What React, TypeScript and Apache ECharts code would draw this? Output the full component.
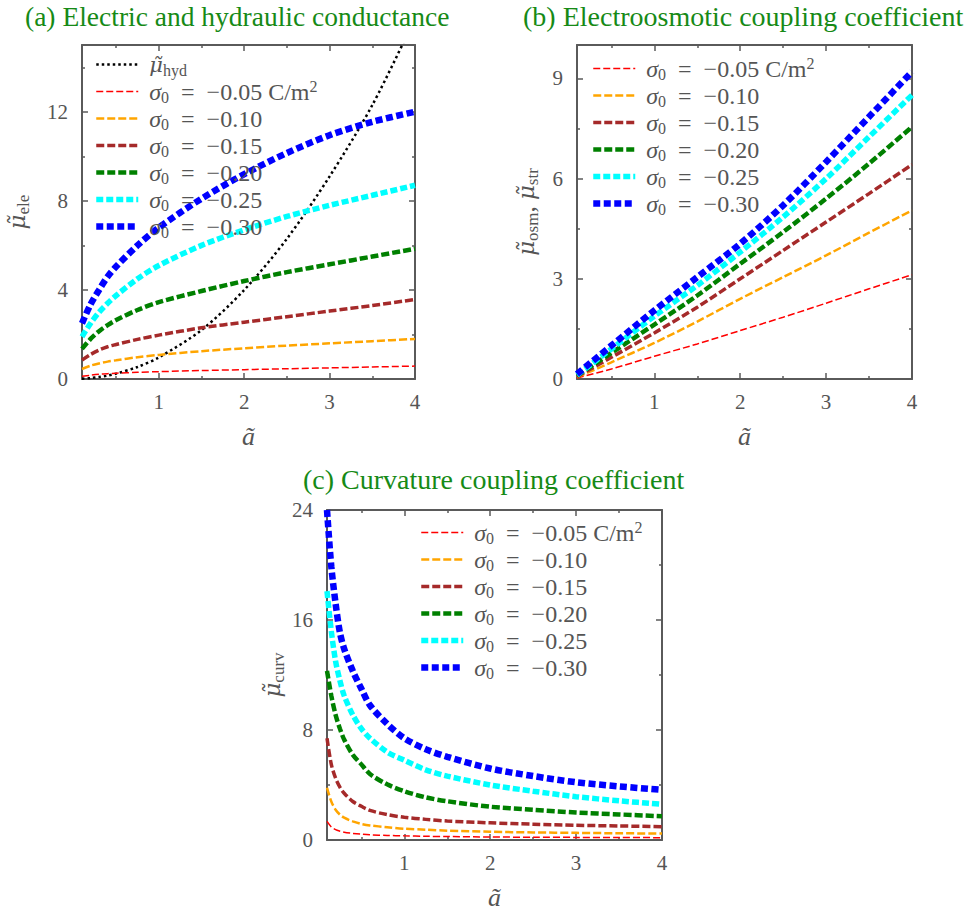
import React, { useEffect, useRef } from 'react';
import * as echarts from 'echarts';

// ---------------- data ----------------
// (a) electric conductance and hydraulic conductance vs ã
const xA = [0.1, 0.2, 0.3, 0.4, 0.5, 0.75, 1, 1.5, 2, 2.5, 3, 3.5, 4];
const hydA = [0.01, 0.04, 0.09, 0.15, 0.24, 0.54, 0.97, 2.2, 4.0, 6.3, 9.1, 12.3, 16.2];
const eleA005 = [0.12, 0.17, 0.21, 0.24, 0.26, 0.3, 0.33, 0.38, 0.42, 0.46, 0.5, 0.54, 0.58];
const eleA010 = [0.45, 0.6, 0.7, 0.78, 0.84, 0.98, 1.08, 1.25, 1.38, 1.5, 1.6, 1.7, 1.8];
const eleA015 = [0.85, 1.1, 1.3, 1.45, 1.55, 1.78, 1.97, 2.3, 2.55, 2.8, 3.05, 3.3, 3.57];
const eleA020 = [1.35, 1.8, 2.15, 2.42, 2.65, 3.1, 3.45, 3.95, 4.4, 4.8, 5.15, 5.5, 5.85];
const eleA025 = [1.9, 2.5, 3.0, 3.4, 3.75, 4.5, 5.1, 6.0, 6.7, 7.3, 7.8, 8.25, 8.7];
const eleA030 = [2.5, 3.35, 4.0, 4.6, 5.05, 6.0, 6.8, 8.1, 9.2, 10.15, 10.95, 11.55, 12.0];

// (b) electroosmotic coupling coefficient vs ã
const xB = [0.1, 0.5, 1, 1.5, 2, 2.5, 3, 3.5, 4];
const osmB005 = [0.03, 0.3, 0.68, 1.05, 1.45, 1.85, 2.27, 2.7, 3.12];
const osmB010 = [0.05, 0.5, 1.08, 1.72, 2.4, 3.05, 3.7, 4.38, 5.05];
const osmB015 = [0.07, 0.65, 1.38, 2.15, 3.0, 3.85, 4.7, 5.55, 6.42];
const osmB020 = [0.1, 0.78, 1.63, 2.5, 3.45, 4.4, 5.4, 6.45, 7.55];
const osmB025 = [0.12, 0.9, 1.88, 2.8, 3.8, 4.85, 6.0, 7.25, 8.5];
const osmB030 = [0.15, 1.0, 2.05, 3.05, 4.05, 5.2, 6.5, 7.85, 9.2];

// (c) curvature coupling coefficient vs ã
const xC = [0.1, 0.15, 0.2, 0.25, 0.3, 0.4, 0.5, 0.6, 0.8, 1, 1.25, 1.5, 2, 2.5, 3, 3.5, 4];
const curvC005 = [1.35, 0.95, 0.75, 0.64, 0.56, 0.48, 0.42, 0.38, 0.33, 0.3, 0.27, 0.25, 0.22, 0.2, 0.19, 0.18, 0.17];
const curvC010 = [3.8, 2.8, 2.2, 1.85, 1.62, 1.35, 1.17, 1.06, 0.93, 0.82, 0.75, 0.68, 0.6, 0.55, 0.52, 0.49, 0.47];
const curvC015 = [7.4, 5.5, 4.5, 3.85, 3.4, 2.8, 2.45, 2.15, 1.85, 1.65, 1.5, 1.38, 1.25, 1.15, 1.07, 1.02, 0.97];
const curvC020 = [12.3, 10.5, 9.1, 8.1, 7.3, 6.2, 5.5, 4.8, 4.05, 3.55, 3.1, 2.82, 2.42, 2.2, 2.0, 1.86, 1.72];
const curvC025 = [18.1, 15.2, 13.0, 11.6, 10.5, 9.1, 8.1, 7.4, 6.4, 5.8, 5.1, 4.65, 4.0, 3.55, 3.15, 2.85, 2.6];
const curvC030 = [24, 19.9, 17.2, 15.1, 13.9, 12.3, 11.0, 9.8, 8.45, 7.4, 6.6, 6.05, 5.2, 4.65, 4.2, 3.9, 3.65];

// tick values
const xMajorTicks = [1, 2, 3, 4];
const xMinorTicks = [0.5, 1.5, 2.5, 3.5];
const yMajorA = [0, 4, 8, 12];
const yMinorA = [2, 6, 10, 14];
const yMajorB = [0, 3, 6, 9];
const yMinorB = [1.5, 4.5, 7.5];
const yMajorC = [0, 8, 16, 24];
const yMinorC = [4, 12, 20];

const sigmaLabels = ['−0.05', '−0.10', '−0.15', '−0.20', '−0.25', '−0.30'];
const titles = [
  '(a) Electric and hydraulic conductance',
  '(b) Electroosmotic coupling coefficient',
  '(c) Curvature coupling coefficient',
];

// ---------------- styles ----------------
const COLORS = ['#ff0000', '#ffa500', '#a52a2a', '#008000', '#00ffff', '#0000ff'];
const WIDTHS = [1.5, 2.5, 3.5, 4.5, 5.5, 6.5];
const DASHES = [[7, 3], [8, 3], [8, 3], [8, 3], [7, 3], [7, 3.5]];
const FONT = '"Liberation Serif", "DejaVu Serif", serif';
const MUFONT = '"DejaVu Serif", serif';
const GRAY = '#555555';
const AXIS = '#5a5a5a';
const GREEN = '#168a16';

const rich = {
  g: { width: 6 },
  m: { fontStyle: 'italic', fontSize: 21, fontFamily: MUFONT, color: GRAY, lineHeight: 27 },
  i: { fontStyle: 'italic', fontSize: 24, fontFamily: FONT, color: GRAY, lineHeight: 27 },
  t: { fontSize: 24, fontFamily: FONT, color: GRAY, lineHeight: 27 },
  s: { fontSize: 16, fontFamily: FONT, color: GRAY, lineHeight: 16, verticalAlign: 'bottom' },
  p: { fontSize: 16, fontFamily: FONT, color: GRAY, lineHeight: 16, verticalAlign: 'top' },
};

const nameRich = {
  m: { fontStyle: 'italic', fontSize: 23, fontFamily: MUFONT, color: GRAY, lineHeight: 30 },
  i: { fontStyle: 'italic', fontSize: 26, fontFamily: FONT, color: GRAY, lineHeight: 30 },
  t: { fontSize: 25, fontFamily: FONT, color: GRAY, lineHeight: 30 },
  s: { fontSize: 17, fontFamily: FONT, color: GRAY, lineHeight: 17, verticalAlign: 'bottom' },
};

type PanelSpec = {
  grid: { left: number; top: number; width: number; height: number };
  yMax: number;
  yMajor: number[];
  yMinor: number[];
  yName: string;
  yNameGap: number;
};

const panels: PanelSpec[] = [
  { grid: { left: 82, top: 45, width: 333, height: 334 }, yMax: 15, yMajor: yMajorA, yMinor: yMinorA, yName: '{m|μ̃}{s|ele}', yNameGap: 50 },
  { grid: { left: 577, top: 45, width: 335, height: 334 }, yMax: 10, yMajor: yMajorB, yMinor: yMinorB, yName: '{m|μ̃}{s|osm}{t|, }{m|μ̃}{s|str}', yNameGap: 36 },
  { grid: { left: 327, top: 510, width: 335, height: 333 }, yMax: 24, yMajor: yMajorC, yMinor: yMinorC, yName: '{m|μ̃}{s|curv}', yNameGap: 40 },
];

function buildAxes() {
  const xAxis: any[] = [];
  const yAxis: any[] = [];
  const lineStyle = { color: AXIS, width: 2 };
  const tickStyle = { color: AXIS, width: 1.5 };
  const labelStyle = { color: GRAY, fontFamily: FONT, fontSize: 21 };
  panels.forEach((p, g) => {
    const xBase = { gridIndex: g, type: 'value', min: 0.1, max: 4, splitLine: { show: false } };
    const yBase = { gridIndex: g, type: 'value', min: 0, max: p.yMax, splitLine: { show: false } };
    const sides: Array<[string, boolean]> = [['bottom', true], ['top', false]];
    sides.forEach(([pos, labeled]) => {
      xAxis.push({
        ...xBase, position: pos,
        axisLine: { show: true, onZero: false, lineStyle },
        axisTick: { show: true, inside: true, length: 6, lineStyle: tickStyle, customValues: xMajorTicks },
        axisLabel: labeled
          ? { show: true, ...labelStyle, margin: 12, customValues: xMajorTicks }
          : { show: false },
        ...(labeled
          ? { name: '{i|ã}', nameLocation: 'middle', nameGap: 42, nameTextStyle: { rich: nameRich } }
          : {}),
      });
      xAxis.push({
        ...xBase, position: pos,
        axisLine: { show: false, onZero: false },
        axisTick: { show: true, inside: true, length: 3, lineStyle: tickStyle, customValues: xMinorTicks },
        axisLabel: { show: false },
      });
    });
    const ySides: Array<[string, boolean]> = [['left', true], ['right', false]];
    ySides.forEach(([pos, labeled]) => {
      yAxis.push({
        ...yBase, position: pos,
        axisLine: { show: true, onZero: false, lineStyle },
        axisTick: { show: true, inside: true, length: 6, lineStyle: tickStyle, customValues: p.yMajor },
        axisLabel: labeled
          ? { show: true, ...labelStyle, margin: 14, customValues: p.yMajor }
          : { show: false },
        ...(labeled
          ? { name: p.yName, nameLocation: 'middle', nameGap: p.yNameGap, nameTextStyle: { rich: nameRich } }
          : {}),
      });
      yAxis.push({
        ...yBase, position: pos,
        axisLine: { show: false, onZero: false },
        axisTick: { show: true, inside: true, length: 3, lineStyle: tickStyle, customValues: p.yMinor },
        axisLabel: { show: false },
      });
    });
  });
  return { xAxis, yAxis };
}

function line(name: string, g: number, xs: number[], ys: number[], color: string, width: number, dash: number[]) {
  return {
    type: 'line', name, xAxisIndex: 4 * g, yAxisIndex: 4 * g,
    data: xs.map((x, i) => [x, ys[i]]),
    symbol: 'none', showSymbol: false, smooth: 0.3, clip: true, silent: true,
    lineStyle: { color, width, type: dash, cap: 'butt' },
    itemStyle: { color, opacity: 0 },
  };
}

const legendText: Record<string, string> = {};
function sigmaText(k: number) {
  return k === 0
    ? '{g|}{i|σ}{s|0}{t|\u2002=\u2002' + sigmaLabels[k] + ' C/m}{p|2}'
    : '{g|}{i|σ}{s|0}{t|\u2002=\u2002' + sigmaLabels[k] + '}';
}

function buildOption() {
  const series: any[] = [];
  const legends: any[] = [];
  const groupsA = [eleA005, eleA010, eleA015, eleA020, eleA025, eleA030];
  const groupsB = [osmB005, osmB010, osmB015, osmB020, osmB025, osmB030];
  const groupsC = [curvC005, curvC010, curvC015, curvC020, curvC025, curvC030];

  legendText['aH'] = '{g|}{m|μ̃}{s|hyd}';
  series.push(line('aH', 0, xA, hydA, '#000000', 2.5, [2.5, 3]));
  const namesA = ['aH'];
  groupsA.forEach((ys, k) => {
    const n = 'a' + k; legendText[n] = sigmaText(k); namesA.push(n);
    series.push(line(n, 0, xA, ys, COLORS[k], WIDTHS[k], DASHES[k]));
  });
  const namesB: string[] = [];
  groupsB.forEach((ys, k) => {
    const n = 'b' + k; legendText[n] = sigmaText(k); namesB.push(n);
    series.push(line(n, 1, xB, ys, COLORS[k], WIDTHS[k], DASHES[k]));
  });
  const namesC: string[] = [];
  groupsC.forEach((ys, k) => {
    const n = 'c' + k; legendText[n] = sigmaText(k); namesC.push(n);
    series.push(line(n, 2, xC, ys, COLORS[k], WIDTHS[k], DASHES[k]));
  });

  const legendBase = {
    orient: 'vertical', itemWidth: 42, itemHeight: 14, itemGap: 0, selectedMode: false,
    padding: 0,
    itemStyle: { opacity: 0 },
    lineStyle: { width: 'inherit', type: 'inherit', color: 'inherit', cap: 'butt' },
    formatter: (n: string) => legendText[n],
    textStyle: { color: GRAY, fontFamily: FONT, fontSize: 24, lineHeight: 27, rich },
  };
  legends.push({ ...legendBase, data: namesA, left: 93, top: 51 });
  legends.push({ ...legendBase, data: namesB, left: 590, top: 55 });
  legends.push({ ...legendBase, data: namesC, left: 418, top: 519 });

  const titleStyle = { color: GREEN, fontFamily: FONT, fontSize: 28, fontWeight: 'normal' };
  const title = [
    { text: titles[0], left: 25, top: 2, padding: 0, textStyle: { ...titleStyle, fontSize: 27.5 } },
    { text: titles[1], left: 523, top: 2, padding: 0, textStyle: titleStyle },
    { text: titles[2], left: 303, top: 465, padding: 0, textStyle: titleStyle },
  ];

  const { xAxis, yAxis } = buildAxes();
  return {
    animation: false,
    backgroundColor: '#ffffff',
    title,
    legend: legends,
    grid: panels.map((p) => ({ ...p.grid, containLabel: false })),
    xAxis,
    yAxis,
    series,
  };
}

export default function App() {
  const ref = useRef<HTMLDivElement | null>(null);
  useEffect(() => {
    if (!ref.current) return;
    const chart = echarts.init(ref.current, undefined, { renderer: 'svg' });
    chart.setOption(buildOption() as any);
    return () => chart.dispose();
  }, []);
  return (
    <div
      ref={ref}
      style={{ position: 'absolute', left: 0, top: 0, width: 978, height: 911, background: '#fff' }}
    />
  );
}
